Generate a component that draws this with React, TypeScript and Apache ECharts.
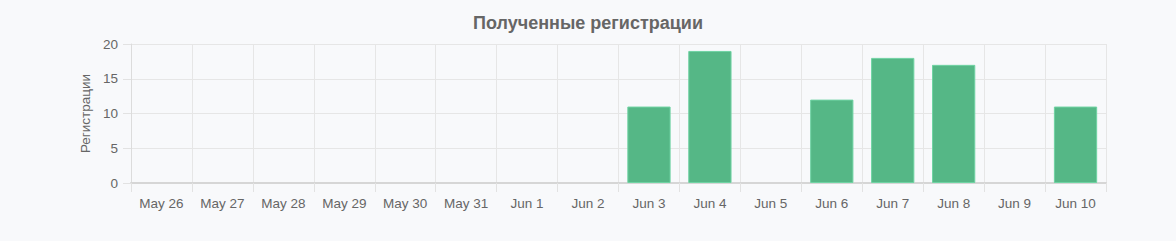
import React, { useEffect, useRef } from "react";
import * as echarts from "echarts";

const categories = [
  "May 26", "May 27", "May 28", "May 29", "May 30", "May 31",
  "Jun 1", "Jun 2", "Jun 3", "Jun 4", "Jun 5", "Jun 6", "Jun 7", "Jun 8", "Jun 9", "Jun 10",
];
const registrations = [0, 0, 0, 0, 0, 0, 0, 0, 11, 19, 0, 12, 18, 17, 0, 11];
const titleText = "Полученные регистрации";
const yAxisName = "Регистрации";

const FONT = "'Liberation Sans', Arial, Helvetica, sans-serif";

export default function App() {
  const ref = useRef<HTMLDivElement>(null);
  useEffect(() => {
    if (!ref.current) return;
    const chart = echarts.init(ref.current, null, { renderer: "svg" });
    chart.setOption({
      animation: false,
      backgroundColor: "#f8f9fb",
      textStyle: { fontFamily: FONT },
      title: {
        text: titleText,
        left: "center",
        top: 9,
        textStyle: { fontFamily: FONT, fontSize: 18, fontWeight: "bold", color: "#666666" },
      },
      grid: { left: 131, right: 70, top: 44, bottom: 58, containLabel: false },
      xAxis: {
        type: "category",
        data: categories,
        boundaryGap: true,
        axisLine: { show: true, lineStyle: { color: "#d6d6d6", width: 2 } },
        axisTick: { show: true, length: 9, alignWithLabel: false, lineStyle: { color: "#e2e2e2" } },
        axisLabel: { color: "#666666", fontSize: 13.5, fontFamily: FONT, margin: 13, interval: 0 },
        splitLine: { show: true, lineStyle: { color: "#e6e6e6", width: 1 } },
      },
      yAxis: {
        type: "value",
        min: 0,
        max: 20,
        interval: 5,
        name: yAxisName,
        nameLocation: "middle",
        nameGap: 36,
        nameTextStyle: { color: "#666666", fontSize: 13.5, fontFamily: FONT },
        axisLine: { show: true, lineStyle: { color: "#dcdcdc", width: 1 } },
        axisTick: { show: true, length: 8, lineStyle: { color: "#e2e2e2" } },
        axisLabel: { color: "#666666", fontSize: 13.5, fontFamily: FONT, margin: 13 },
        splitLine: { show: true, lineStyle: { color: "#e6e6e6", width: 1 } },
      },
      series: [
        {
          type: "bar",
          data: registrations.map((v) =>
            v === 0 ? { value: v, itemStyle: { borderWidth: 0 } } : v
          ),
          barWidth: "71%",
          itemStyle: { color: "#55b786", borderColor: "#6fd3a3", borderWidth: 1 },
        },
      ],
    });
    return () => chart.dispose();
  }, []);
  return (
    <div
      ref={ref}
      style={{ position: "fixed", left: 0, top: 0, width: 1176, height: 241 }}
    />
  );
}
